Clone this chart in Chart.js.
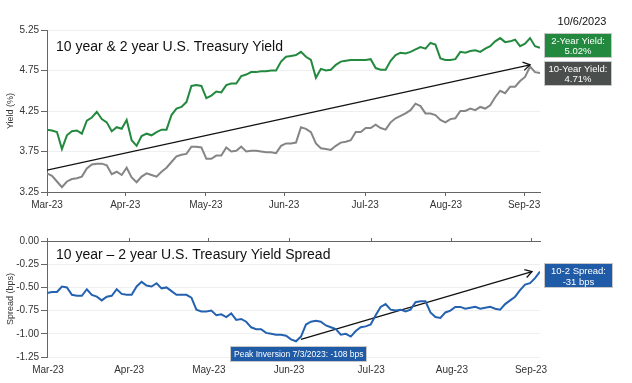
<!DOCTYPE html>
<html>
<head>
<meta charset="utf-8">
<script src="https://cdn.jsdelivr.net/npm/chart.js@4"></script>
<style>
  body { margin: 0; background: #fff; }
  #wrap { position: relative; width: 632px; height: 383px; }
  canvas { position: absolute; left: 0; }
  #yieldChart { top: 0; }
  #spreadChart { top: 215px; }
</style>
</head>
<body>
<div id="wrap">
  <canvas id="yieldChart" width="632" height="215"></canvas>
  <canvas id="spreadChart" width="632" height="168"></canvas>
</div>
<script>
// month tick labels and where they fall along the day index (0 = 3/31/2023, 99 = 10/6/2023)
const monthLabels = ['Mar-23', 'Apr-23', 'May-23', 'Jun-23', 'Jul-23', 'Aug-23', 'Sep-23'];
const yieldMonthPos = [0, 15.7, 31.9, 47.6, 63.9, 80.1, 95.8];
const spreadMonthPos = [0.2, 16.5, 32.5, 48.6, 65.1, 81.3, 97.2];
const yieldTicks = [3.25, 3.75, 4.25, 4.75, 5.25];
const spreadTicks = [-1.25, -1.0, -0.75, -0.5, -0.25, 0];

// 2-year and 10-year yields (%)
const twoYear = [
  4.02, 4.01, 3.99, 3.78, 3.95, 4.00, 4.01, 3.97, 4.13, 4.17,
  4.24, 4.15, 4.11, 4.00, 4.05, 4.03, 4.14, 3.89, 3.82, 3.94,
  3.97, 3.95, 3.99, 4.02, 4.02, 4.20, 4.28, 4.30, 4.36, 4.56,
  4.57, 4.56, 4.41, 4.44, 4.49, 4.48, 4.57, 4.59, 4.59, 4.68,
  4.70, 4.73, 4.73, 4.74, 4.74, 4.75, 4.75, 4.86, 4.92, 4.93,
  4.94, 4.98, 4.92, 4.88, 4.66, 4.77, 4.75, 4.76, 4.82, 4.86,
  4.87, 4.88, 4.88, 4.88, 4.88, 4.89, 4.78, 4.76, 4.76, 4.87,
  4.94, 4.97, 4.96, 4.98, 5.01, 5.04, 5.02, 5.09, 5.07, 4.90,
  4.88, 4.88, 4.89, 4.98, 4.97, 4.99, 5.00, 4.98, 5.02, 5.05,
  5.11, 5.15, 5.10, 5.11, 5.13, 5.05, 5.08, 5.15, 5.05, 5.03
];
const tenYear = [
  3.48, 3.45, 3.38, 3.31, 3.38, 3.41, 3.42, 3.44, 3.54, 3.59,
  3.60, 3.60, 3.58, 3.47, 3.50, 3.46, 3.55, 3.43, 3.37, 3.44,
  3.48, 3.46, 3.44, 3.50, 3.55, 3.62, 3.69, 3.71, 3.72, 3.81,
  3.81, 3.80, 3.66, 3.66, 3.70, 3.70, 3.80, 3.75, 3.76, 3.81,
  3.75, 3.76, 3.76, 3.75, 3.74, 3.74, 3.73, 3.82, 3.85, 3.85,
  3.86, 4.05, 4.03, 3.99, 3.85, 3.79, 3.78, 3.77, 3.82, 3.86,
  3.87, 3.89, 3.99, 3.99, 4.04, 4.04, 4.08, 4.04, 4.02, 4.11,
  4.16, 4.19, 4.22, 4.26, 4.34, 4.31, 4.22, 4.22, 4.20, 4.14,
  4.11, 4.15, 4.16, 4.25, 4.25, 4.28, 4.26, 4.30, 4.28, 4.32,
  4.42, 4.50, 4.47, 4.55, 4.55, 4.62, 4.67, 4.80, 4.73, 4.72
];
// 10-2 spread
const spread = [
  -0.56, -0.55, -0.55, -0.49, -0.50, -0.58, -0.59, -0.59, -0.52, -0.58,
  -0.60, -0.64, -0.60, -0.59, -0.52, -0.57, -0.58, -0.58, -0.49, -0.44,
  -0.48, -0.49, -0.455, -0.51, -0.50, -0.54, -0.58, -0.58, -0.58, -0.61,
  -0.74, -0.76, -0.76, -0.75, -0.80, -0.79, -0.82, -0.78, -0.85, -0.84,
  -0.87, -0.93, -0.95, -0.95, -0.99, -1.00, -1.01, -1.01, -1.02, -1.06,
  -1.08, -1.03, -0.90, -0.87, -0.86, -0.87, -0.91, -0.93, -0.95, -1.01,
  -1.00, -1.03, -0.97, -0.93, -0.92, -0.90, -0.80, -0.71, -0.68, -0.74,
  -0.75, -0.74, -0.76, -0.74, -0.66, -0.65, -0.65, -0.77, -0.82, -0.83,
  -0.77, -0.75, -0.71, -0.71, -0.73, -0.72, -0.71, -0.73, -0.72, -0.71,
  -0.73, -0.74, -0.68, -0.64, -0.60, -0.53, -0.47, -0.455, -0.40, -0.33
];

// trend arrows [index, value]
const yieldTrend = [[0, 3.52], [97, 4.82]];
const spreadTrend = [[51, -1.06], [97.4, -0.33]];

const asOf = '10/6/2023';
const lastTwoYear = '5.02%';
const lastTenYear = '4.71%';
const peakNote = 'Peak Inversion 7/3/2023: -108 bps';
const lastSpread = '-31 bps';

const font = '"Liberation Sans", Arial, Helvetica, sans-serif';
Chart.defaults.font.family = font;
Chart.defaults.color = '#333';

const toPoints = arr => arr.map((v, i) => ({ x: i, y: v }));
const toXY = arr => arr.map(p => ({ x: p[0], y: p[1] }));

function drawArrowHead(chart, dsIndex) {
  const pts = chart.getDatasetMeta(dsIndex).data;
  const p0 = pts[0], p1 = pts[pts.length - 1];
  const ang = Math.atan2(p1.y - p0.y, p1.x - p0.x);
  const ctx = chart.ctx;
  ctx.save();
  ctx.strokeStyle = '#111';
  ctx.lineWidth = 1.3;
  ctx.beginPath();
  ctx.moveTo(p1.x - 8 * Math.cos(ang - 0.55), p1.y - 8 * Math.sin(ang - 0.55));
  ctx.lineTo(p1.x, p1.y);
  ctx.lineTo(p1.x - 8 * Math.cos(ang + 0.55), p1.y - 8 * Math.sin(ang + 0.55));
  ctx.stroke();
  ctx.restore();
}

function noteBox(ctx, x, y, w, h, fill, lines, size, offs) {
  ctx.fillStyle = fill;
  ctx.fillRect(x, y, w, h);
  ctx.strokeStyle = '#c8c8c8';
  ctx.lineWidth = 1;
  ctx.strokeRect(x + 0.5, y + 0.5, w - 1, h - 1);
  ctx.fillStyle = '#fff';
  ctx.font = size + 'px ' + font;
  ctx.textAlign = 'center';
  ctx.textBaseline = 'middle';
  lines.forEach((t, i) => ctx.fillText(t, x + w / 2, y + offs[i]));
}

const yieldNotes = {
  id: 'yieldNotes',
  beforeDatasetsDraw(chart) {
    const ctx = chart.ctx, a = chart.chartArea;
    ctx.save();
    ctx.fillStyle = '#111';
    ctx.font = '14px ' + font;
    ctx.textBaseline = 'alphabetic';
    ctx.fillText('10 year & 2 year U.S. Treasury Yield', a.left + 9, a.top + 21);
    ctx.restore();
  },
  afterDatasetsDraw(chart) {
    drawArrowHead(chart, 2);
    const ctx = chart.ctx, a = chart.chartArea;
    ctx.save();
    ctx.fillStyle = '#111';
    ctx.font = '11px ' + font;
    ctx.textAlign = 'center';
    ctx.textBaseline = 'middle';
    ctx.fillText(asOf, a.right + 42, 22);
    noteBox(ctx, a.right + 4, 33, 68, 25, '#23893f', ['2-Year Yield:', lastTwoYear], 9.5, [8.5, 18.5]);
    noteBox(ctx, a.right + 4, 61, 68, 25, '#4a4f4d', ['10-Year Yield:', lastTenYear], 9.5, [8, 18]);
    ctx.restore();
  }
};

const spreadNotes = {
  id: 'spreadNotes',
  beforeDatasetsDraw(chart) {
    const ctx = chart.ctx, a = chart.chartArea;
    ctx.save();
    ctx.fillStyle = '#111';
    ctx.font = '14px ' + font;
    ctx.textBaseline = 'alphabetic';
    ctx.fillText('10 year \u2013 2 year U.S. Treasury Yield Spread', a.left + 9, a.top + 17.5);
    ctx.restore();
  },
  afterDatasetsDraw(chart) {
    drawArrowHead(chart, 1);
    const ctx = chart.ctx, a = chart.chartArea;
    ctx.save();
    // peak inversion label
    ctx.fillStyle = '#1f5ba6';
    ctx.fillRect(230, 131, 137, 16);
    ctx.strokeStyle = '#c8c8c8';
    ctx.strokeRect(230.5, 131.5, 136, 15);
    ctx.fillStyle = '#fff';
    ctx.font = '8.5px ' + font;
    ctx.textBaseline = 'middle';
    ctx.fillText(peakNote, 234, 139.5);
    noteBox(ctx, a.right + 4, 48, 69, 25, '#1f5ba6', ['10-2 Spread:', lastSpread], 9.5, [8.5, 19]);
    ctx.restore();
  }
};

function fixedTicks(values) {
  return axis => { axis.ticks = values.map(v => ({ value: v })); };
}

new Chart(document.getElementById('yieldChart'), {
  type: 'line',
  data: {
    datasets: [
      { label: '2-Year', data: toPoints(twoYear), borderColor: '#23893f', borderWidth: 2, pointRadius: 0, tension: 0 },
      { label: '10-Year', data: toPoints(tenYear), borderColor: '#858585', borderWidth: 2, pointRadius: 0, tension: 0 },
      { label: 'Trend', data: toXY(yieldTrend), borderColor: '#111', borderWidth: 1.3, pointRadius: 0 }
    ]
  },
  options: {
    responsive: false,
    devicePixelRatio: 1,
    animation: false,
    layout: { padding: { left: 0, right: 92, top: 30, bottom: 0 } },
    plugins: { legend: { display: false }, tooltip: { enabled: false } },
    scales: {
      x: {
        type: 'linear', min: 0, max: 99,
        afterBuildTicks: fixedTicks(yieldMonthPos),
        afterFit: s => { s.height = 23; },
        ticks: { callback: (v, i) => monthLabels[i], font: { size: 10 }, padding: 3, maxRotation: 0, autoSkip: false },
        grid: { drawOnChartArea: false, tickLength: 4, tickColor: '#666' },
        border: { color: '#666' }
      },
      y: {
        min: 3.25, max: 5.25,
        afterBuildTicks: fixedTicks(yieldTicks),
        afterFit: s => { s.width = 47; },
        ticks: { callback: v => v.toFixed(2), font: { size: 10 }, padding: 2 },
        grid: { color: '#efefef', tickLength: 6, tickColor: '#666' },
        border: { color: '#666' },
        title: { display: true, text: 'Yield (%)', font: { size: 9 }, padding: { top: 5, bottom: 0 } }
      }
    }
  },
  plugins: [yieldNotes]
});

new Chart(document.getElementById('spreadChart'), {
  type: 'line',
  data: {
    datasets: [
      { label: 'Spread', data: toPoints(spread), borderColor: '#2462b0', borderWidth: 2, pointRadius: 0, tension: 0 },
      { label: 'Trend', data: toXY(spreadTrend), borderColor: '#111', borderWidth: 1.3, pointRadius: 0 }
    ]
  },
  options: {
    responsive: false,
    devicePixelRatio: 1,
    animation: false,
    layout: { padding: { left: 0, right: 92, top: 22, bottom: 0 } },
    plugins: { legend: { display: false }, tooltip: { enabled: false } },
    scales: {
      x: {
        type: 'linear', min: 0, max: 99,
        afterBuildTicks: fixedTicks(spreadMonthPos),
        afterFit: s => { s.height = 26; },
        ticks: { callback: (v, i) => monthLabels[i], font: { size: 10 }, padding: 7, maxRotation: 0, autoSkip: false },
        grid: { display: false, drawTicks: false },
        border: { display: false }
      },
      xTop: {
        type: 'linear', position: 'top', min: 0, max: 99,
        afterBuildTicks: fixedTicks(spreadMonthPos),
        afterFit: s => { s.height = 4; },
        ticks: { display: false },
        grid: { drawOnChartArea: false, tickLength: 3, tickColor: '#666' },
        border: { color: '#666' }
      },
      y: {
        min: -1.25, max: 0,
        afterBuildTicks: fixedTicks(spreadTicks),
        afterFit: s => { s.width = 47; },
        ticks: { callback: v => v.toFixed(2), font: { size: 10 }, padding: 2 },
        grid: { color: '#efefef', tickLength: 6, tickColor: '#666' },
        border: { color: '#666' },
        title: { display: true, text: 'Spread (bps)', font: { size: 9 }, padding: { top: 5, bottom: 0 } }
      }
    }
  },
  plugins: [spreadNotes]
});
</script>
</body>
</html>
